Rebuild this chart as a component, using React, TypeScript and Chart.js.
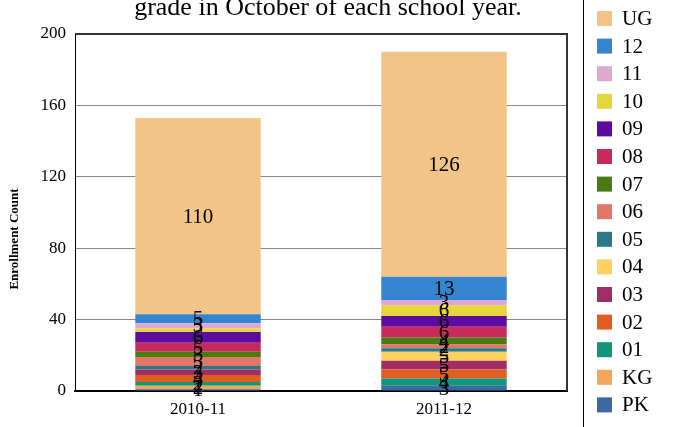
import React, { useEffect, useRef } from 'react';
import { Chart, registerables } from 'chart.js';

Chart.register(...registerables);

// ---- data ----
const categories = ['2010-11', '2011-12'];
const gradeNames = ['PK', 'KG', '01', '02', '03', '04', '05', '06', '07', '08', '09', '10', '11', '12', 'UG'];
const PK = [1, 3];
const KG = [2, 0];
const G01 = [2, 4];
const G02 = [4, 5];
const G03 = [3, 5];
const G04 = [0, 5];
const G05 = [2, 2];
const G06 = [5, 2];
const G07 = [3, 4];
const G08 = [5, 6];
const G09 = [6, 6];
const G10 = [2, 6];
const G11 = [3, 3];
const G12 = [5, 13];
const UG = [110, 126];
const seriesValues = [PK, KG, G01, G02, G03, G04, G05, G06, G07, G08, G09, G10, G11, G12, UG];
const seriesColors = [
  '#3e68a0', '#f4a65a', '#10967a', '#e05e20', '#a02e64', '#fdd062', '#2a7888',
  '#e07868', '#4a7a12', '#c82a5c', '#5c0aa0', '#e4d63c', '#dea8d0', '#3584d0', '#f2c488',
];
const yTicks = [0, 40, 80, 120, 160, 200];
const titleText = 'grade in October of each school year.';
const yTitle = 'Enrollment Count';

const FONT = '"Liberation Serif", "Times New Roman", Times, serif';

const valueLabelPlugin = {
  id: 'valueLabels',
  afterDatasetsDraw(chart: any) {
    const { ctx } = chart;
    ctx.save();
    ctx.font = `21px ${FONT}`;
    ctx.fillStyle = '#000';
    ctx.textAlign = 'center';
    ctx.textBaseline = 'middle';
    chart.data.datasets.forEach((ds: any, di: number) => {
      const meta = chart.getDatasetMeta(di);
      meta.data.forEach((el: any, i: number) => {
        const v = ds.data[i];
        if (!v) return;
        const { x, y, base } = el.getProps(['x', 'y', 'base'], true);
        ctx.fillText(String(v), x, (y + base) / 2 + 1);
      });
    });
    ctx.restore();
  },
};

const decorPlugin = {
  id: 'decor',
  afterDraw(chart: any) {
    const { ctx, chartArea: a, height } = chart;
    ctx.save();
    // frame top & right
    ctx.strokeStyle = '#333';
    ctx.lineWidth = 2;
    ctx.beginPath();
    ctx.moveTo(a.left, a.top);
    ctx.lineTo(a.right, a.top);
    ctx.lineTo(a.right, a.bottom);
    ctx.stroke();

    // title (second line, cropped)
    ctx.font = `26px ${FONT}`;
    ctx.fillStyle = '#000';
    ctx.textAlign = 'center';
    ctx.textBaseline = 'alphabetic';
    ctx.fillText(titleText, (a.left + a.right) / 2 + 7, 14.5);

    // y-axis title
    ctx.save();
    ctx.translate(15, 239);
    ctx.rotate(-Math.PI / 2);
    ctx.font = `bold 13px ${FONT}`;
    ctx.textAlign = 'center';
    ctx.textBaseline = 'middle';
    ctx.fillText(yTitle, 0, 0);
    ctx.restore();

    // legend box border
    const lx = a.right + 16;
    ctx.strokeStyle = '#000';
    ctx.lineWidth = 1;
    ctx.beginPath();
    ctx.moveTo(lx + 0.5, 0);
    ctx.lineTo(lx + 0.5, height);
    ctx.stroke();

    // legend items (reverse order)
    const n = chart.data.datasets.length;
    ctx.font = `21px ${FONT}`;
    ctx.textAlign = 'left';
    ctx.textBaseline = 'middle';
    for (let k = 0; k < n; k++) {
      const ds = chart.data.datasets[n - 1 - k];
      const cy = 18.5 + k * 27.6;
      ctx.fillStyle = ds.backgroundColor;
      ctx.fillRect(lx + 14, cy - 7.5, 15, 15);
      ctx.fillStyle = '#000';
      ctx.fillText(ds.label, lx + 39, cy + 1);
    }
    ctx.restore();
  },
};

export default function App() {
  const canvasRef = useRef<HTMLCanvasElement | null>(null);

  useEffect(() => {
    if (!canvasRef.current) return;
    const chart = new Chart(canvasRef.current, {
      type: 'bar',
      data: {
        labels: categories,
        datasets: seriesValues.map((vals, i) => ({
          label: gradeNames[i],
          data: vals,
          backgroundColor: seriesColors[i],
          borderWidth: 0,
          categoryPercentage: 1,
          barPercentage: 0.51,
        })),
      },
      options: {
        animation: false,
        responsive: true,
        maintainAspectRatio: false,
        layout: { padding: { top: 34, right: 109, left: 0, bottom: 0 } },
        plugins: {
          legend: { display: false },
          tooltip: { enabled: false },
          title: { display: false },
        },
        scales: {
          x: {
            stacked: true,
            grid: { display: false, drawTicks: false },
            border: { display: true, color: '#000', width: 2 },
            ticks: { color: '#000', font: { family: FONT, size: 17 }, padding: 8 },
            afterFit: (scale: any) => { scale.height = 36; },
          },
          y: {
            stacked: true,
            min: 0,
            max: 200,
            afterBuildTicks: (scale: any) => { scale.ticks = yTicks.map((v) => ({ value: v })); },
            grid: { color: '#888', lineWidth: 1, drawTicks: false },
            border: { display: true, color: '#000', width: 1 },
            ticks: { color: '#000', font: { family: FONT, size: 17 }, padding: 9 },
            title: { display: false },
            afterFit: (scale: any) => { scale.width = 75; },
          },
        },
      },
      plugins: [valueLabelPlugin, decorPlugin],
    } as any);
    return () => chart.destroy();
  }, []);

  return (
    <div style={{ position: 'fixed', left: 0, top: 0, width: 676, height: 427, background: '#fff' }}>
      <canvas ref={canvasRef} />
    </div>
  );
}
